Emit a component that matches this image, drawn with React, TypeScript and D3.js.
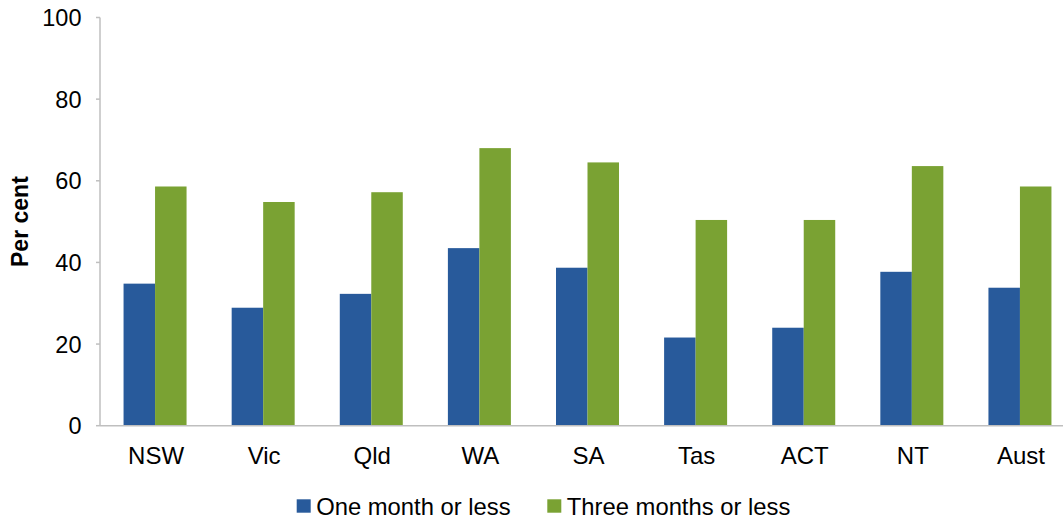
import React from "react";
import * as d3 from "d3";

const categories = ["NSW", "Vic", "Qld", "WA", "SA", "Tas", "ACT", "NT", "Aust"];
const oneMonth = [34.8, 28.9, 32.3, 43.5, 38.7, 21.6, 24.0, 37.7, 33.8];
const threeMonths = [58.6, 54.8, 57.2, 68.0, 64.5, 50.4, 50.4, 63.6, 58.6];
const seriesNames = ["One month or less", "Three months or less"];
const seriesColors = ["#285A9B", "#7AA233"];
const yTicks = [0, 20, 40, 60, 80, 100];

const W = 1063;
const H = 519;
const font = "'Liberation Sans', Arial, sans-serif";

export default function App() {
  const x = d3.scaleBand().domain(categories).range([101, 1074]).padding(0);
  const y = d3.scaleLinear().domain([0, 100]).range([425.7, 17.5]);
  const barW = 31.5;
  const series = [oneMonth, threeMonths];
  const axisColor = "#BFBFBF";
  // legend entries: square x, text x
  const legendX = [296.7, 547.3];

  return (
    <div>
      <style>{`body{margin:0}`}</style>
      <svg width={W} height={H} style={{ display: "block", fontFamily: font }}>
        {/* y axis */}
        <line x1={100} x2={100} y1={y(100)} y2={y(0)} stroke={axisColor} strokeWidth={1.5} />
        {yTicks.map((t) => (
          <g key={t}>
            <line x1={96} x2={100} y1={y(t)} y2={y(t)} stroke={axisColor} strokeWidth={1.5} />
            <text x={81.5} y={y(t)} dy="0.36em" textAnchor="end" fontSize={23.5} fill="#000">
              {t}
            </text>
          </g>
        ))}
        <text
          transform={`translate(28.3, ${y(50)}) rotate(-90)`}
          textAnchor="middle"
          fontSize={23}
          fontWeight="bold"
        >
          Per cent
        </text>

        {/* bars */}
        {categories.map((c, i) => {
          const cx = x(c)! + x.bandwidth() / 2;
          return (
            <g key={c}>
              {series.map((s, k) => (
                <rect
                  key={k}
                  x={cx - barW + k * barW}
                  y={y(s[i])}
                  width={barW}
                  height={y(0) - y(s[i])}
                  fill={seriesColors[k]}
                />
              ))}
              <text x={cx + 1} y={464} textAnchor="middle" fontSize={24}>
                {c}
              </text>
            </g>
          );
        })}

        {/* x axis */}
        <line x1={100} x2={W} y1={y(0)} y2={y(0)} stroke={axisColor} strokeWidth={1.5} />

        {/* legend */}
        {seriesNames.map((n, k) => (
          <g key={n}>
            <rect x={legendX[k]} y={499.3} width={14} height={13.4} fill={seriesColors[k]} />
            <text x={legendX[k] + 19.5} y={515} fontSize={23.8}>
              {n}
            </text>
          </g>
        ))}
      </svg>
    </div>
  );
}
